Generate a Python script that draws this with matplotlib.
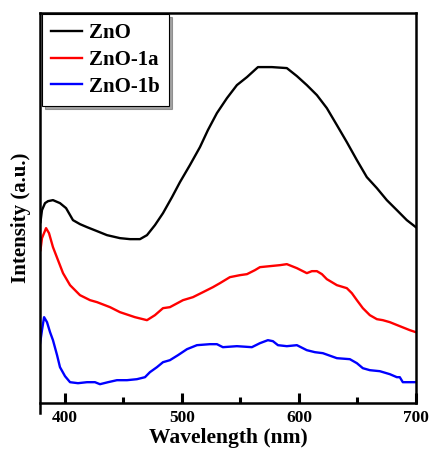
import matplotlib
matplotlib.use("Agg")
import matplotlib.pyplot as plt
from matplotlib.ticker import MultipleLocator

plt.rcParams['font.family'] = ['Liberation Serif', 'DejaVu Serif']
plt.rcParams['font.weight'] = 'bold'

# Wavelength (nm) and intensity (a.u.)
zno_wl = [379, 380.3, 382.9, 385.5, 389.7, 395.7, 400.9, 406.8, 412.8, 418.8,
          427.4, 435.9, 447.0, 455.6, 464.1, 470.1, 476.9, 483.8, 491.5, 498.3,
          506.8, 515.4, 522.2, 529.9, 538.5, 547.0, 555.6, 565.0, 570.9, 576.9,
          589.7, 598.3, 606.8, 615.4, 623.9, 632.5, 641.0, 649.6, 658.1, 666.7,
          675.2, 683.8, 692.3, 700]
zno_int = [181, 193, 200, 202, 203, 200, 195, 183, 179, 176,
           172, 168, 165, 164, 164, 168, 178, 190, 206, 221,
           238, 256, 273, 290, 305, 318, 326, 336, 336, 336,
           335, 327, 318, 308, 295, 278, 261, 243, 226, 215,
           203, 193, 183, 176]

zno1a_wl = [379, 380.3, 383.8, 386.3, 389.7, 394.0, 398.3, 404.3, 412.8, 421.4,
            427.4, 438.5, 447.0, 459.8, 470.1, 476.9, 483.8, 489.7, 500.9, 509.4,
            518.0, 526.5, 532.5, 541.0, 549.6, 555.6, 562.4, 566.7, 575.2, 583.8,
            589.7, 598.3, 606.8, 611.1, 615.4, 619.7, 623.9, 632.5, 641.0, 645.3,
            649.6, 654.7, 660.7, 666.7, 671.8, 677.8, 686.3, 694.9, 700]
zno1a_int = [153, 165, 175, 170, 156, 143, 130, 118, 108, 103,
             101, 96, 91, 86, 83, 88, 95, 96, 103, 106,
             111, 116, 120, 126, 128, 129, 133, 136, 137, 138,
             139, 135, 130, 132, 132, 129, 124, 118, 115, 110,
             103, 95, 88, 84, 83, 81, 77, 73, 71]

zno1b_wl = [378.7, 380.3, 382.1, 384.6, 387.2, 389.7, 393.2, 395.7, 400, 404.3,
            411.1, 418.8, 425.6, 429.9, 436.8, 444.4, 453.0, 461.5, 468.4, 472.6,
            478.6, 483.8, 489.7, 496.6, 504.3, 512.8, 523.9, 529.9, 535.0, 547.0,
            559.8, 566.7, 573.5, 577.8, 582.1, 589.7, 598.3, 606.8, 613.7, 620.5,
            632.5, 643.6, 649.6, 654.7, 660.7, 669.2, 677.8, 683.8, 686.3, 688.9,
            694.9, 700]
zno1b_int = [60, 73, 86, 81, 71, 63, 48, 36, 27, 21,
             20, 21, 21, 19, 21, 23, 23, 24, 26, 31,
             36, 41, 43, 48, 54, 58, 59, 59, 56, 57,
             56, 60, 63, 62, 58, 57, 58, 53, 51, 50,
             45, 44, 40, 35, 33, 32, 29, 26, 26, 21,
             21, 21]

series_names = ['ZnO', 'ZnO-1a', 'ZnO-1b']
series_colors = ['#000000', '#ff0000', '#0000ff']
xtick_values = [400, 500, 600, 700]

fig = plt.figure(figsize=(4.30, 4.51), dpi=100)
ax = fig.add_axes([0.093, 0.106, 0.874, 0.865])

for wl, inten, name, c in zip([zno_wl, zno1a_wl, zno1b_wl],
                              [zno_int, zno1a_int, zno1b_int],
                              series_names, series_colors):
    ax.plot(wl, inten, color=c, lw=1.7, label=name)

ax.set_xlim(378.6, 700)
ax.set_ylim(0, 390)
ax.set_xticks(xtick_values)
ax.xaxis.set_minor_locator(MultipleLocator(50))
ax.tick_params(axis='x', which='major', direction='in', length=7, width=2.2, color='black',
               labelsize=12.5, pad=5, top=False, bottom=True)
ax.tick_params(axis='x', which='minor', direction='in', length=4.5, width=2.2, color='black',
               top=False, bottom=True)
ax.tick_params(axis='y', which='both', left=False, right=False, labelleft=False)
for lab in ax.get_xticklabels():
    lab.set_fontweight('bold')
for s in ax.spines.values():
    s.set_linewidth(1.8)
ax.spines['left'].set_bounds(-10, 390)
ax.spines['left'].set_clip_on(False)

ax.set_xlabel('Wavelength (nm)', fontsize=15.5, fontweight='bold', labelpad=1)
ax.set_ylabel('Intensity (a.u.)', fontsize=15, fontweight='bold')
ax.yaxis.set_label_coords(-0.025, 0.474)

leg = ax.legend(loc='upper left', bbox_to_anchor=(0.005, 0.998), fancybox=False, shadow=True,
                framealpha=1, edgecolor='#000000', prop={'weight': 'bold', 'size': 15},
                handlelength=1.5, handletextpad=0.3, borderpad=0.45, labelspacing=0.32,
                borderaxespad=0)
leg.get_frame().set_linewidth(0.8)

fig.savefig('out.png', dpi=100)
